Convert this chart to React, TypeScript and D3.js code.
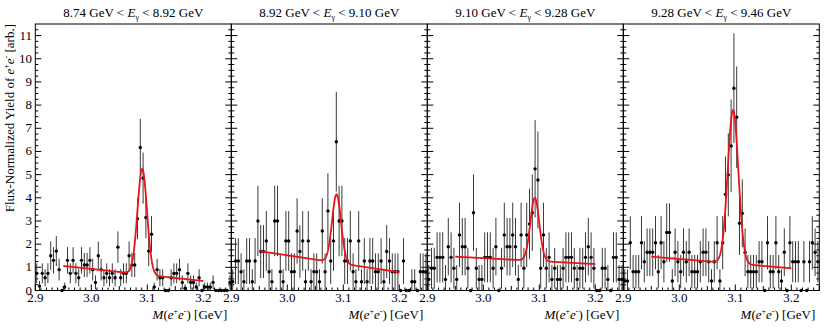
import React from 'react';
import * as d3 from 'd3';

// photon energy bins (GeV)
const eLow = ['8.74', '8.92', '9.10', '9.28'];
const eHigh = ['8.92', '9.10', '9.28', '9.46'];

// flux-normalized yields, 70 bins of 5 MeV from 2.90 to 3.25 GeV
const p1Values = [0.74,0.19,0.74,0.55,0.74,1.5,1.3,1.7,0.9,0, 0.15,1.3,0.74,1.3,0.74,0.55,1.3,1.1,1.1,1.3, 0.9,0.35,1.5,0.9,0.55,0.74,0.55,0.74,0.55,1.87, 0.55,0.74,0.74,1.5,1.1,1.1,3.1,6.17,4.85,3.15, 1.7,2.43,0.15,0.9,0.55,0.55,0,0,0.55,0.74, 0.74,0.9,0.35,0.1,0.74,0.35,0.35,0.15,0.55,0, 0.15,0.15,0.15,0.35,0,0,0,0,0,0.35];
const p1Errors = [0.43,0.22,0.43,0.37,0.43,0.61,0.57,0.65,0.47,0, 0.19,0.57,0.43,0.57,0.43,0.37,0.57,0.52,0.52,0.57, 0.47,0.3,0.61,0.47,0.37,0.43,0.37,0.43,0.37,0.68, 0.37,0.43,0.43,0.61,0.52,0.52,0.88,1.24,1.1,0.89, 0.65,0.78,0.19,0.47,0.37,0.37,0,0,0.37,0.43, 0.43,0.47,0.3,0.16,0.43,0.3,0.3,0.19,0.37,0, 0.19,0.19,0.19,0.3,0,0,0,0,0,0.3];

const p2Values = [0.38,1.27,1.27,0.81,0.38,1.27,1.27,0.38,1.27,3.0, 1.68,1.68,2.14,0.81,0.38,3.0,3.0,0.81,0.38,2.14, 2.14,0.81,0.81,2.57,1.68,2.14,0.38,2.14,0.38,0.81, 0.81,0.38,2.57,0.81,3.43,1.27,2.14,6.42,3.0,3.0, 1.27,1.27,2.14,0.81,0.38,2.14,0.38,1.27,0.38,1.27, 1.27,0.81,0.81,1.27,0.38,1.68,1.27,0.81,0.81,0.81, 0,1.27,0,0,0.38,0.38,0,0.81,0.81,0.81];
const p2Errors = [0.54,0.99,0.99,0.79,0.54,0.99,0.99,0.54,0.99,1.52, 1.14,1.14,1.29,0.79,0.54,1.52,1.52,0.79,0.54,1.29, 1.29,0.79,0.79,1.41,1.14,1.29,0.54,1.29,0.54,0.79, 0.79,0.54,1.41,0.79,1.63,0.99,1.29,2.15,1.52,1.52, 0.99,0.99,1.29,0.79,0.54,1.29,0.54,0.99,0.54,0.99, 0.99,0.79,0.79,0.99,0.54,1.14,0.99,0.79,0.79,0.79, 0,0.99,0,0,0.54,0.54,0,0.79,0.79,0.79];

const p3Values = [0.48,0.96,0.96,1.43,1.43,1.43,0.48,1.89,1.43,0.96, 0.48,2.4,1.89,1.89,0.96,0,3.36,0.96,0.48,0.48, 1.43,1.43,1.43,0.96,1.89,0,0.96,2.4,1.89,1.89, 2.4,1.89,0.48,2.4,0.96,2.4,2.87,3.36,5.25,4.77, 0.96,2.4,0.96,1.43,0.48,0.96,0.48,0.48,0.96,1.43, 1.43,1.43,0.96,0.48,0.96,0.96,1.43,1.89,1.43,0.96, 0,0,0.96,0.96,0.48,0,1.43,1.43,0.48,0.48];
const p3Errors = [0.62,0.88,0.88,1.08,1.08,1.08,0.62,1.24,1.08,0.88, 0.62,1.39,1.24,1.24,0.88,0,1.65,0.88,0.62,0.62, 1.08,1.08,1.08,0.88,1.24,0,0.88,1.39,1.24,1.24, 1.39,1.24,0.62,1.39,0.88,1.39,1.52,1.65,2.1,2.09, 0.88,1.39,0.88,1.08,0.62,0.88,0.62,0.62,0.88,1.08, 1.08,1.08,0.88,0.62,0.88,0.88,1.08,1.24,1.08,0.88, 0,0,0.88,0.88,0.62,0,1.08,1.08,0.62,0.62];

const p4Values = [0.41,0.41,2.06,0.81,0.81,0.81,2.06,1.24,1.65,1.65, 1.65,2.06,0.81,2.06,1.24,2.5,2.5,0.41,1.65,1.24, 0.81,1.65,1.24,1.65,0.81,0.81,0.81,1.24,1.65,1.65, 1.24,0.41,1.24,2.06,0.41,2.06,4.15,4.99,6.24,8.73, 7.48,2.9,3.33,1.65,0.81,0.81,0.81,0.81,1.24,1.24, 0,2.06,0.81,0.81,2.06,0.81,0.41,1.65,0,2.06, 1.24,1.24,1.24,0,1.24,0,1.24,2.06,1.65,1.24];
const p4Errors = [0.51,0.51,1.15,0.72,0.72,0.72,1.15,0.89,1.03,1.03, 1.03,1.15,0.72,1.15,0.89,1.26,1.26,0.51,1.03,0.89, 0.72,1.03,0.89,1.03,0.72,0.72,0.72,0.89,1.03,1.03, 0.89,0.51,0.89,1.15,0.51,1.15,1.63,1.79,2.0,2.37, 2.19,1.36,1.46,1.03,0.72,0.72,0.72,0.72,0.89,0.89, 0,1.15,0.72,0.72,1.15,0.72,0.51,1.03,0,1.15, 0.89,0.89,0.89,0,0.89,0,0.89,1.15,1.03,0.89];

// fit: linear background (value at 2.95 and 3.20) + gaussian peak
const fitBgLow = [1.06, 1.7, 1.46, 1.46];
const fitBgHigh = [0.41, 0.79, 1.14, 0.96];
const fitAmp = [4.56, 2.95, 2.72, 6.62];
const fitMean = [3.091, 3.088, 3.092, 3.096];
const fitSigma = [0.0085, 0.008, 0.008, 0.0095];

const xTickLabels = ['2.9', '3.0', '3.1', '3.2'];
const yTickLabels = ['0', '1', '2', '3', '4', '5', '6', '7', '8', '9', '10', '11'];

const allValues = [p1Values, p2Values, p3Values, p4Values];
const allErrors = [p1Errors, p2Errors, p3Errors, p4Errors];

const W = 830, H = 331;
const left = 35.3, panelW = 196, top = 24, bottom = 290.5;
const font = '"Liberation Serif", "Times New Roman", "DejaVu Serif", serif';
const txt = { fontFamily: font };

const y = d3.scaleLinear().domain([0, 11.5]).range([bottom, top]);

function Panel({ k }) {
  const x0 = left + k * panelW;
  const x = d3.scaleLinear().domain([2.9, 3.25]).range([x0, x0 + panelW]);
  const vals = allValues[k];
  const errs = allErrors[k];
  const centers = vals.map((_, i) => 2.9 + 0.005 * (i + 0.5));

  const model = (m) => {
    const bg = fitBgLow[k] + (fitBgHigh[k] - fitBgLow[k]) * (m - 2.95) / 0.25;
    return bg + fitAmp[k] * Math.exp(-0.5 * ((m - fitMean[k]) / fitSigma[k]) ** 2);
  };
  const fitX = d3.range(0, 251).map(i => 2.95 + i * 0.001);
  const line = d3.line().x(d => x(d)).y(d => y(model(d)));

  const yMinor = d3.range(0, 46).map(i => i * 0.25);
  const xMinor = d3.range(0, 36).map(i => 2.9 + i * 0.01);

  return (
    <g>
      {/* y ticks, both sides */}
      {yMinor.map((v, i) => {
        const len = i % 4 === 0 ? 6 : 3;
        return (
          <g key={'yt' + i}>
            <line x1={x0} x2={x0 + len} y1={y(v)} y2={y(v)} stroke="#000" strokeWidth={1} />
            <line x1={x0 + panelW} x2={x0 + panelW - len} y1={y(v)} y2={y(v)} stroke="#000" strokeWidth={1} />
          </g>
        );
      })}
      {xMinor.map((v, i) => {
        const len = i % 10 === 0 ? 6 : (i % 5 === 0 ? 4.5 : 3);
        return <line key={'xt' + i} x1={x(v)} x2={x(v)} y1={bottom} y2={bottom - len} stroke="#000" strokeWidth={1} />;
      })}
      {xTickLabels.map(t => (
        <text key={t} x={x(+t)} y={302} textAnchor="middle" style={txt} fontSize={13}>{t}</text>
      ))}
      {/* error bars and points */}
      {vals.map((v, i) => errs[i] > 0 ? (
        <line key={'e' + i} x1={x(centers[i])} x2={x(centers[i])}
          y1={y(Math.max(0, v - errs[i]))} y2={y(v + errs[i])} stroke="#3a3a3a" strokeWidth={1} />
      ) : null)}
      {vals.map((v, i) => (
        <circle key={'p' + i} cx={x(centers[i])} cy={y(v)} r={1.7} fill="#000" />
      ))}
      <path d={line(fitX)} fill="none" stroke="#e8141c" strokeWidth={1.8} />
      <rect x={x0} y={top} width={panelW} height={bottom - top} fill="none" stroke="#000" strokeWidth={1} />
      {/* title */}
      <text x={x0 + panelW / 2} y={17} textAnchor="middle" style={txt} fontSize={13}>
        {eLow[k]} GeV {'<'} <tspan fontStyle="italic">E</tspan><tspan fontSize={8} dy={3}>γ</tspan><tspan dy={-3}> {'<'} {eHigh[k]} GeV</tspan>
      </text>
      {/* x title */}
      <text x={x0 + panelW - 4} y={319} textAnchor="end" style={txt} fontSize={13}>
        <tspan fontStyle="italic">M</tspan>(<tspan fontStyle="italic">e</tspan><tspan fontSize={8} dy={-5}>+</tspan><tspan fontStyle="italic" dy={5}>e</tspan><tspan fontSize={8} dy={-5}>-</tspan><tspan dy={5}>) [GeV]</tspan>
      </text>
    </g>
  );
}

export default function App() {
  return (
    <svg width={W} height={H} style={{ position: 'absolute', left: 0, top: 0, background: '#fff' }}>
      <rect width={W} height={H} fill="#fff" />
      {[0, 1, 2, 3].map(k => <Panel key={k} k={k} />)}
      {yTickLabels.map((t, i) => (
        <text key={t} x={32} y={y(i) + 4} textAnchor="end" style={txt} fontSize={13}>{t}</text>
      ))}
      <text transform={`translate(14,${top}) rotate(-90)`} textAnchor="end" style={txt} fontSize={13}>
        Flux-Normalized Yield of <tspan fontStyle="italic">e</tspan><tspan fontSize={8} dy={-5}>+</tspan><tspan fontStyle="italic" dy={5}>e</tspan><tspan fontSize={8} dy={-5}>-</tspan><tspan dy={5}> [arb.]</tspan>
      </text>
    </svg>
  );
}
